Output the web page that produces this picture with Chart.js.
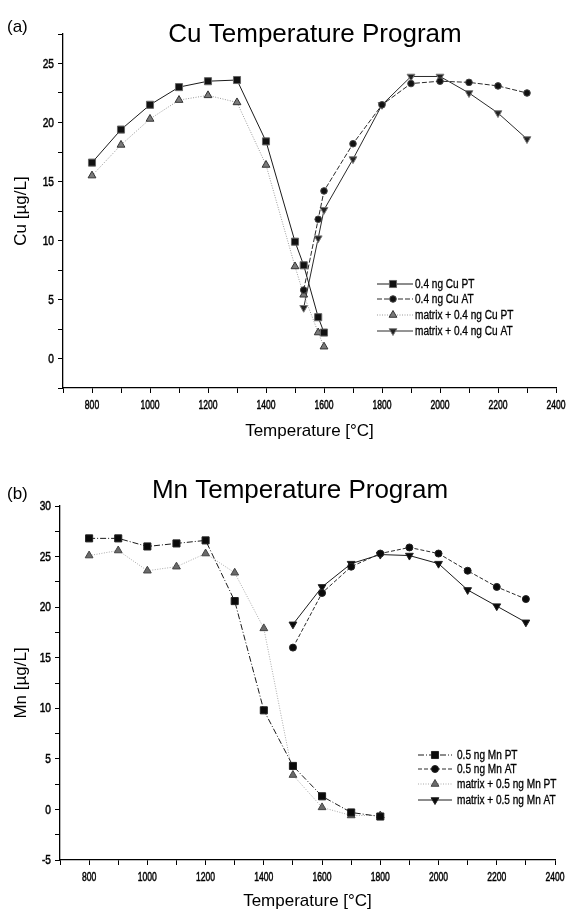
<!DOCTYPE html>
<html>
<head>
<meta charset="utf-8">
<script src="https://cdn.jsdelivr.net/npm/chart.js"></script>
<style>
html,body{margin:0;padding:0;background:#fff;}
.box{position:absolute;left:0;width:571px;height:455px;}
</style>
</head>
<body>
<div class="box" style="top:0"><canvas id="cuChart" width="571" height="455"></canvas></div>
<div class="box" style="top:455px"><canvas id="mnChart" width="571" height="455"></canvas></div>
<script>
// ---- Cu data (temperature in degC, conc in ug/L)
const cuPTTemp = [800,900,1000,1100,1200,1300,1400,1500,1530,1580,1600];
const cuPT = [16.6,19.4,21.5,23.0,23.5,23.6,18.4,9.9,7.9,3.5,2.2];
const cuATTemp = [1530,1580,1600,1700,1800,1900,2000,2100,2200,2300];
const cuAT = [5.8,11.8,14.2,18.2,21.5,23.3,23.5,23.4,23.1,22.5];
const cuMatrixPTTemp = [800,900,1000,1100,1200,1300,1400,1500,1530,1580,1600];
const cuMatrixPT = [15.5,18.1,20.3,21.9,22.3,21.7,16.4,7.8,5.4,2.2,1.0];
const cuMatrixATTemp = [1530,1580,1600,1700,1800,1900,2000,2100,2200,2300];
const cuMatrixAT = [4.3,10.2,12.6,16.9,21.5,23.9,23.9,22.5,20.8,18.6];

// ---- Mn data
const mnPTTemp = [800,900,1000,1100,1200,1300,1400,1500,1600,1700,1800];
const mnPT = [26.8,26.8,26.0,26.3,26.6,20.6,9.8,4.3,1.3,-0.3,-0.7];
const mnATTemp = [1500,1600,1700,1800,1900,2000,2100,2200,2300];
const mnAT = [16.0,21.4,24.0,25.3,25.9,25.3,23.6,22.0,20.8];
const mnMatrixPTTemp = [800,900,1000,1100,1200,1300,1400,1500,1600,1700,1800];
const mnMatrixPT = [25.1,25.6,23.6,24.0,25.3,23.4,17.9,3.4,0.2,-0.6,-0.6];
const mnMatrixATTemp = [1500,1600,1700,1800,1900,2000,2100,2200,2300];
const mnMatrixAT = [18.3,22.0,24.3,25.2,25.1,24.3,21.7,20.1,18.5];

const xTickValues = [800,1000,1200,1400,1600,1800,2000,2200,2400];

const SANS = "'Liberation Sans', Arial, sans-serif";

function pts(temps, vals){
  return temps.map((t,i) => ({x:t, y:vals[i]}));
}

function series(label, temps, vals, st){
  return {
    label: label,
    data: pts(temps, vals),
    borderColor: st.line,
    borderWidth: st.width || 1,
    borderDash: st.dash || [],
    pointStyle: st.shape,
    rotation: st.rot || 0,
    pointRadius: st.r,
    pointBackgroundColor: st.fill,
    pointBorderColor: st.edge,
    pointBorderWidth: 1,
    tension: 0,
    fill: false
  };
}

// squeezed text, the scan uses a very condensed face
function squeezed(ctx, text, x, y, sx, align, bold){
  ctx.save();
  ctx.translate(x, y);
  ctx.scale(sx, 1);
  ctx.textAlign = align;
  ctx.fillText(text, 0, 0);
  if (bold) { ctx.lineWidth = bold; ctx.strokeStyle = ctx.fillStyle; ctx.strokeText(text, 0, 0); }
  ctx.restore();
}

// headings, tick labels and legend (line sample with marker in middle)
const decorPlugin = {
  id: 'decor',
  afterDraw(chart){
    const o = chart.options.plugins.decor;
    const ctx = chart.ctx;
    const xs = chart.scales.x, ys = chart.scales.y;
    ctx.save();
    ctx.fillStyle = '#000';
    ctx.textBaseline = 'alphabetic';
    ctx.textAlign = 'left';
    ctx.font = '17px ' + SANS;
    ctx.fillText(o.tag, 7, o.tagY);
    ctx.textAlign = 'center';
    ctx.font = '26px ' + SANS;
    ctx.fillText(o.title, o.titleX, o.titleY);

    // tick labels
    ctx.font = '13px ' + SANS;
    ctx.textBaseline = 'top';
    xTickValues.forEach(v => squeezed(ctx, String(v), xs.getPixelForValue(v), xs.top + 11, 0.66, 'center', 0.5));
    ctx.textBaseline = 'middle';
    for (let v = Math.ceil(o.yMin / 5) * 5; v <= o.yMax; v += 5) {
      squeezed(ctx, String(v), ys.right - 9, ys.getPixelForValue(v) + 0.5, 0.78, 'right', 0.5);
    }

    // legend
    ctx.font = '12px ' + SANS;
    chart.data.datasets.forEach((ds, i) => {
      const y = o.legY[i];
      ctx.save();
      ctx.strokeStyle = ds.borderColor;
      ctx.lineWidth = ds.borderWidth;
      ctx.setLineDash(ds.borderDash);
      ctx.beginPath();
      ctx.moveTo(o.legX0, y);
      ctx.lineTo(o.legX1, y);
      ctx.stroke();
      ctx.setLineDash([]);
      ctx.fillStyle = ds.pointBackgroundColor;
      ctx.strokeStyle = ds.pointBorderColor;
      ctx.lineWidth = 1;
      Chart.helpers.drawPoint(ctx, {pointStyle: ds.pointStyle, rotation: ds.rotation, radius: ds.pointRadius, borderWidth: 1}, o.legM, y);
      ctx.restore();
      ctx.fillStyle = '#000';
      squeezed(ctx, ds.label, o.legT, y + 1, 0.84, 'left', 0.3);
    });
    ctx.restore();
  }
};

function makeChart(id, datasets, cfg){
  return new Chart(document.getElementById(id), {
    type: 'line',
    data: {datasets: datasets},
    plugins: [decorPlugin],
    options: {
      responsive: false,
      animation: false,
      layout: {padding: {left: 0, top: cfg.top, right: cfg.right, bottom: 0}},
      plugins: {
        legend: {display: false},
        tooltip: {enabled: false},
        decor: Object.assign({yMin: cfg.yMin, yMax: cfg.yMax}, cfg.decor)
      },
      scales: {
        x: {
          type: 'linear',
          min: 700, max: 2400,
          afterBuildTicks: s => { s.ticks = []; for (let v = 700; v <= 2400; v += 100) s.ticks.push({value: v}); },
          afterFit: s => { s.height = cfg.xHeight; s.paddingLeft = 0; s.paddingRight = 0; },
          ticks: {display: false},
          grid: {drawOnChartArea: false, tickLength: 5, tickColor: '#000', tickWidth: 1},
          border: {color: '#000', width: 1.3},
          title: {display: true, text: 'Temperature [°C]', color: '#000', font: {family: SANS, size: 17}, padding: {top: 0, bottom: cfg.xTitlePad}}
        },
        y: {
          min: cfg.yMin, max: cfg.yMax,
          afterBuildTicks: s => { s.ticks = []; for (let v = cfg.yMin; v <= cfg.yMax + 0.01; v += 2.5) s.ticks.push({value: v}); },
          afterFit: s => { s.width = cfg.yWidth; s.paddingTop = 0; s.paddingBottom = 0; },
          ticks: {display: false},
          grid: {drawOnChartArea: false, tickLength: 5, tickColor: '#000', tickWidth: 1},
          border: {color: '#000', width: 1.3},
          title: {display: true, text: cfg.yTitle, color: '#000', font: {family: SANS, size: 17}, padding: {top: 11, bottom: 0}}
        }
      }
    }
  });
}

const cuChart = makeChart('cuChart', [
  series('0.4 ng Cu PT', cuPTTemp, cuPT, {line:'#1a1a1a', shape:'rect', r:5, fill:'#111', edge:'#666'}),
  series('0.4 ng Cu AT', cuATTemp, cuAT, {line:'#2a2a2a', dash:[5,2], shape:'circle', r:3.3, fill:'#111', edge:'#444'}),
  series('matrix + 0.4 ng Cu PT', cuMatrixPTTemp, cuMatrixPT, {line:'#999', dash:[1,1.5], shape:'triangle', r:4.5, fill:'#7a7a7a', edge:'#333'}),
  series('matrix + 0.4 ng Cu AT', cuMatrixATTemp, cuMatrixAT, {line:'#2a2a2a', shape:'triangle', rot:180, r:4.5, fill:'#222', edge:'#777'})
], {
  top: 34, right: 15, yMin: -2.5, yMax: 27.5, yWidth: 63, xHeight: 67, xTitlePad: 13,
  yTitle: 'Cu [µg/L]',
  decor: {tag: '(a)', tagY: 32, title: 'Cu Temperature Program', titleX: 315, titleY: 42,
          legX0: 377, legX1: 413, legM: 393, legT: 415, legY: [284, 299, 315, 331]}
});

const mnChart = makeChart('mnChart', [
  series('0.5 ng Mn PT', mnPTTemp, mnPT, {line:'#1a1a1a', dash:[6,2,1,2], shape:'rect', r:5, fill:'#0a0a0a', edge:'#222'}),
  series('0.5 ng Mn AT', mnATTemp, mnAT, {line:'#2a2a2a', dash:[4,2], shape:'circle', r:3.5, fill:'#0a0a0a', edge:'#222'}),
  series('matrix + 0.5 ng Mn PT', mnMatrixPTTemp, mnMatrixPT, {line:'#aaa', dash:[1,1.5], shape:'triangle', r:4.5, fill:'#6a6a6a', edge:'#444'}),
  series('matrix + 0.5 ng Mn AT', mnMatrixATTemp, mnMatrixAT, {line:'#1a1a1a', shape:'triangle', rot:180, r:4.5, fill:'#0a0a0a', edge:'#222'})
], {
  top: 51, right: 16, yMin: -5, yMax: 30, yWidth: 60, xHeight: 50, xTitlePad: -2,
  yTitle: 'Mn [µg/L]',
  decor: {tag: '(b)', tagY: 44, title: 'Mn Temperature Program', titleX: 300, titleY: 43,
          legX0: 418, legX1: 452, legM: 435, legT: 457, legY: [300, 314, 329, 345]}
});
</script>
</body>
</html>
